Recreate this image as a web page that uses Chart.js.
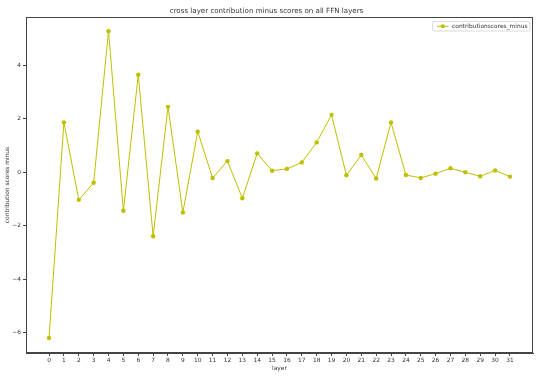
<!DOCTYPE html>
<html>
<head>
<meta charset="utf-8">
<script src="https://cdn.jsdelivr.net/npm/chart.js@4/dist/chart.umd.min.js"></script>
<style>
html,body{margin:0;padding:0;background:#fff;}
#wrap{width:540px;height:378px;position:relative;}
</style>
</head>
<body>
<div id="wrap"><canvas id="c" width="540" height="378"></canvas></div>
<script>
const layers = [0,1,2,3,4,5,6,7,8,9,10,11,12,13,14,15,16,17,18,19,20,21,22,23,24,25,26,27,28,29,30,31];
const scores = [-6.20, 1.87, -1.03, -0.39, 5.28, -1.44, 3.65, -2.39, 2.45, -1.50, 1.52, -0.21, 0.42, -0.97, 0.71, 0.06,
                0.13, 0.37, 1.12, 2.15, -0.11, 0.65, -0.23, 1.87, -0.10, -0.21, -0.05, 0.15, 0.00, -0.15, 0.07, -0.16];
const xTicks = layers;
const yTicks = [-6, -4, -2, 0, 2, 4];
const seriesLabel = 'contributionscores_minus';
const chartTitle = 'cross layer contribution minus scores on all FFN layers';
const xTitle = 'layer';
const yTitle = 'contribution scores minus';

const FONT = 'DejaVu Sans';
const LINE = '#bfbf00';
const AXIS = '#444';

const framePlugin = {
  id: 'frame',
  afterDraw(chart) {
    const {ctx, chartArea: a} = chart;
    ctx.save();
    ctx.strokeStyle = AXIS;
    ctx.lineWidth = 1;
    ctx.strokeRect(Math.round(a.left) + 0.5, Math.round(a.top) + 0.5,
                   Math.round(a.right - a.left) - 1, Math.round(a.bottom - a.top) - 1);
    // legend inside top-right
    const ds = chart.data.datasets[0];
    ctx.font = '5.9px "' + FONT + '"';
    const tw = ctx.measureText(ds.label).width;
    const bx1 = a.right - 3, by = a.top + 4.5, bh = 9.5;
    const bx0 = bx1 - (tw + 22);
    ctx.fillStyle = 'rgba(255,255,255,0.8)';
    ctx.strokeStyle = '#d0d0d0';
    ctx.lineWidth = 0.8;
    ctx.beginPath();
    ctx.roundRect(bx0, by, bx1 - bx0, bh, 1.5);
    ctx.fill();
    ctx.stroke();
    const ly = by + bh / 2;
    ctx.strokeStyle = ds.borderColor;
    ctx.lineWidth = 1;
    ctx.beginPath();
    ctx.moveTo(bx0 + 4.5, ly);
    ctx.lineTo(bx0 + 16, ly);
    ctx.stroke();
    ctx.fillStyle = ds.pointBackgroundColor;
    ctx.beginPath();
    ctx.arc(bx0 + 10.25, ly, 2.1, 0, Math.PI * 2);
    ctx.fill();
    ctx.fillStyle = '#333';
    ctx.textBaseline = 'middle';
    ctx.textAlign = 'left';
    ctx.fillText(ds.label, bx0 + 19.5, ly + 0.3);
    ctx.restore();
  }
};

new Chart(document.getElementById('c'), {
  type: 'line',
  data: {
    datasets: [{
      label: seriesLabel,
      data: layers.map((l, i) => ({x: l, y: scores[i]})),
      borderColor: LINE,
      backgroundColor: LINE,
      pointBackgroundColor: LINE,
      pointBorderColor: LINE,
      borderWidth: 1,
      pointRadius: 2.2,
      pointBorderWidth: 0,
      tension: 0
    }]
  },
  options: {
    responsive: false,
    animation: false,
    devicePixelRatio: 1,
    layout: {padding: {left: 0, right: 7, top: 0, bottom: 0}},
    plugins: {
      legend: {display: false},
      tooltip: {enabled: false},
      title: {
        display: true,
        text: chartTitle,
        color: '#333',
        font: {family: FONT, size: 7.1, weight: 'normal', lineHeight: 1.2},
        padding: {top: 6.4, bottom: 2.1}
      }
    },
    scales: {
      x: {
        type: 'linear',
        min: -1.55,
        max: 32.55,
        afterBuildTicks: (s) => { s.ticks = xTicks.map(v => ({value: v})); },
        afterFit: (s) => { s.height = 25; },
        ticks: {
          autoSkip: false,
          maxRotation: 0,
          padding: 1,
          color: '#333',
          font: {family: FONT, size: 5.9},
          callback: (v) => String(v)
        },
        grid: {display: true, drawOnChartArea: false, drawTicks: true, tickLength: 3, color: AXIS, tickColor: AXIS},
        border: {display: true, color: AXIS, width: 1},
        title: {
          display: true, text: xTitle, color: '#333',
          font: {family: FONT, size: 5.9, lineHeight: 1.2},
          padding: {top: 0, bottom: 5.8}
        }
      },
      y: {
        type: 'linear',
        min: -6.76,
        max: 5.81,
        afterBuildTicks: (s) => { s.ticks = yTicks.map(v => ({value: v})); },
        afterFit: (s) => { s.width = 26; },
        ticks: {
          padding: 2,
          color: '#333',
          font: {family: FONT, size: 5.9},
          callback: (v) => String(v).replace('-', '\u2212')
        },
        grid: {display: true, drawOnChartArea: false, drawTicks: true, tickLength: 3, color: AXIS, tickColor: AXIS},
        border: {display: true, color: AXIS, width: 1},
        title: {
          display: true, text: yTitle, color: '#333',
          font: {family: FONT, size: 5.9, lineHeight: 1.2},
          padding: {top: 3.7, bottom: 0}
        }
      }
    }
  },
  plugins: [framePlugin]
});
</script>
</body>
</html>
